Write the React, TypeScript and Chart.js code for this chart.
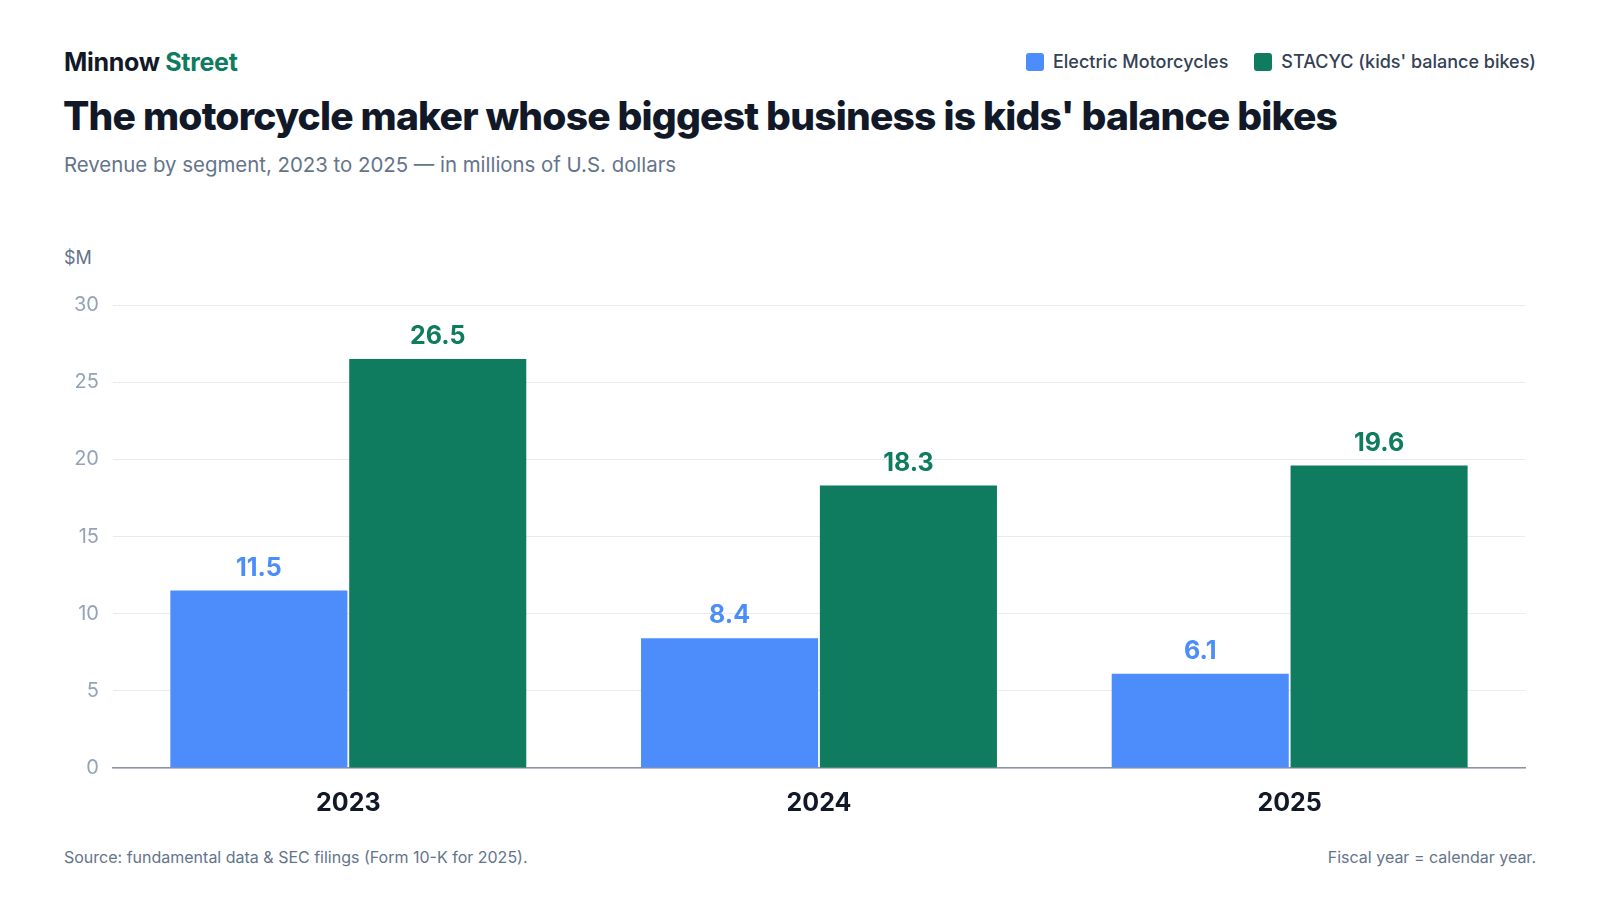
import React, { useEffect, useRef } from "react";
import { Chart, registerables } from "chart.js";
Chart.register(...registerables);

const categories = ["2023", "2024", "2025"];
const electric = [11.5, 8.4, 6.1];
const stacyc = [26.5, 18.3, 19.6];
const yTicks = [0, 5, 10, 15, 20, 25, 30];

const BLUE = "#4C8DFB";
const GREEN = "#0F7B5F";
const FONT = "Inter, 'Noto Sans', sans-serif";

const labelPlugin = {
  id: "valueLabels",
  afterDatasetsDraw(chart: any) {
    const ctx = chart.ctx;
    ctx.save();
    ctx.font = `700 25px ${FONT}`;
    ctx.textAlign = "center";
    ctx.textBaseline = "bottom";
    chart.data.datasets.forEach((ds: any, i: number) => {
      const meta = chart.getDatasetMeta(i);
      meta.data.forEach((bar: any, j: number) => {
        ctx.fillStyle = ds.backgroundColor;
        ctx.fillText(ds.data[j].toFixed(1), bar.x, bar.y - 10);
      });
    });
    ctx.restore();
  },
};

export default function App() {
  const ref = useRef<HTMLCanvasElement>(null);
  useEffect(() => {
    const chart = new Chart(ref.current!, {
      type: "bar",
      data: {
        labels: categories,
        datasets: [
          { label: "Electric Motorcycles", data: electric, backgroundColor: BLUE, categoryPercentage: 0.76, barPercentage: 0.99 },
          { label: "STACYC (kids' balance bikes)", data: stacyc, backgroundColor: GREEN, categoryPercentage: 0.76, barPercentage: 0.99 },
        ],
      },
      options: {
        animation: false,
        responsive: false,
        layout: { padding: { top: 12, right: 5 } },
        plugins: { legend: { display: false }, tooltip: { enabled: false } },
        scales: {
          y: {
            min: 0,
            max: 30,
            afterBuildTicks: (ax: any) => { ax.ticks = yTicks.map((v) => ({ value: v })); },
            grid: { color: "#E8EBEF", drawTicks: false },
            border: { display: false },
            ticks: { color: "#94A3B8", font: { family: FONT, size: 20 }, padding: 14 },
          },
          x: {
            grid: { display: false },
            border: { color: "#8A94A6", width: 1.5 },
            ticks: { color: "#111827", font: { family: FONT, size: 25, weight: "bold" }, padding: 12 },
          },
        },
      },
      plugins: [labelPlugin],
    });
    return () => chart.destroy();
  }, []);

  return (
    <div style={{ position: "fixed", left: 0, top: 0, width: 1600, height: 900, background: "#fff", fontFamily: FONT }}>
      <div style={{ position: "absolute", left: 64, top: 47, fontSize: 25, fontWeight: 700, color: "#111827", letterSpacing: -0.3 }}>
        Minnow <span style={{ color: GREEN }}>Street</span>
      </div>
      <div style={{ position: "absolute", right: 64, top: 51, display: "flex", gap: 26, fontSize: 18, fontWeight: 500, color: "#334155" }}>
        <span style={{ display: "flex", alignItems: "center", gap: 9 }}>
          <span style={{ width: 18, height: 18, borderRadius: 3, background: BLUE }} />Electric Motorcycles
        </span>
        <span style={{ display: "flex", alignItems: "center", gap: 9 }}>
          <span style={{ width: 18, height: 18, borderRadius: 3, background: GREEN }} />STACYC (kids' balance bikes)
        </span>
      </div>
      <div style={{ position: "absolute", left: 63, top: 92, fontSize: 39, fontWeight: 800, color: "#111827", letterSpacing: -0.8 }}>
        The motorcycle maker whose biggest business is kids' balance bikes
      </div>
      <div style={{ position: "absolute", left: 64, top: 152, fontSize: 20.4, color: "#64748B" }}>
        Revenue by segment, 2023 to 2025 — in millions of U.S. dollars
      </div>
      <div style={{ position: "absolute", left: 64, top: 247, fontSize: 18, color: "#64748B" }}>$M</div>
      <canvas ref={ref} width={1470} height={551} style={{ position: "absolute", left: 60, top: 279, width: 1470, height: 551 }} />
      <div style={{ position: "absolute", left: 64, top: 847, fontSize: 16, color: "#64748B" }}>
        Source: fundamental data &amp; SEC filings (Form 10-K for 2025).
      </div>
      <div style={{ position: "absolute", right: 64, top: 847, fontSize: 16, color: "#64748B" }}>Fiscal year = calendar year.</div>
    </div>
  );
}
